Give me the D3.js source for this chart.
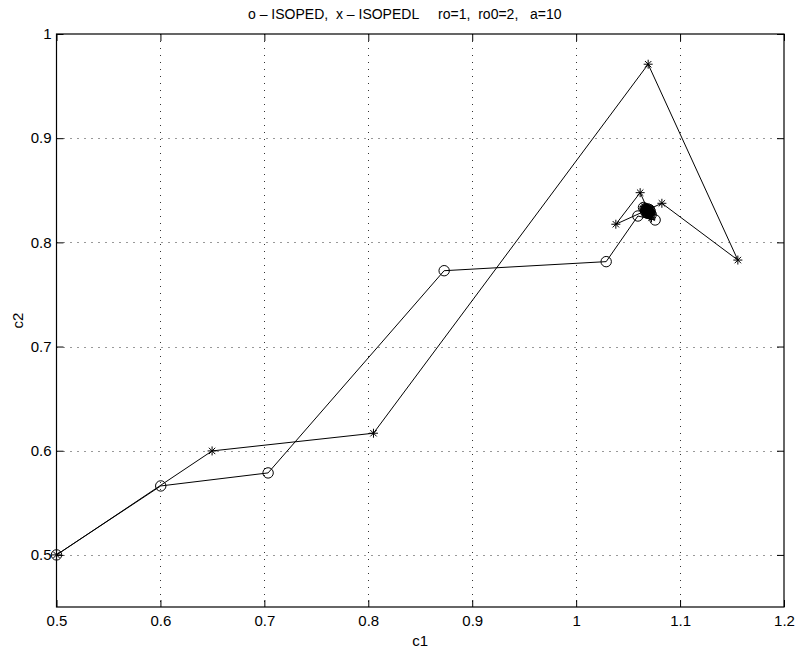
<!DOCTYPE html>
<html><head><meta charset="utf-8">
<script src="https://cdn.jsdelivr.net/npm/d3@7"></script>
<style>
body{margin:0;background:#fff;}
svg{display:block;}
text{font-family:"Liberation Sans",Arial,Helvetica,sans-serif;fill:#000;}
</style></head>
<body>
<svg id="chart" width="798" height="652"></svg>
<script>
// ISOPED (circles)
const isopedC1 = [0.5, 0.6003, 0.7036, 0.873, 1.0289, 1.0594, 1.076, 1.0648, 1.0722, 1.0662, 1.0712, 1.0672, 1.0705, 1.0679, 1.0699, 1.0684, 1.0695,
  1.0706, 1.0674, 1.0674, 1.0706, 1.0712, 1.0690, 1.0668, 1.0690, 1.0697, 1.0683, 1.0690];
const isopedC2 = [0.5, 0.5662, 0.5787, 0.7728, 0.7815, 0.8253, 0.8215, 0.8335, 0.8268, 0.8322, 0.8277, 0.8318, 0.8285, 0.8312, 0.8291, 0.8307, 0.8296,
  0.8314, 0.8314, 0.8286, 0.8286, 0.8300, 0.8321, 0.8300, 0.8279, 0.8306, 0.8294, 0.8300];
// ISOPEDL (stars)
const isopedlC1 = [0.5, 0.6497, 0.805, 1.0693, 1.1556, 1.0825, 1.0382, 1.0616, 1.0725, 1.0655, 1.0718, 1.0668, 1.0708, 1.0676, 1.0701, 1.0682, 1.0697,
  1.0710, 1.0690, 1.0670, 1.0690, 1.0705, 1.0675, 1.0675, 1.0705, 1.0698, 1.0690, 1.0682, 1.0690, 1.0690];
const isopedlC2 = [0.5, 0.5998, 0.6168, 0.971, 0.783, 0.8375, 0.8174, 0.8477, 0.8235, 0.8345, 0.8268, 0.8328, 0.8282, 0.8318, 0.8289, 0.8311, 0.8294,
  0.8300, 0.8322, 0.8300, 0.8280, 0.8312, 0.8312, 0.8288, 0.8288, 0.8300, 0.8308, 0.8300, 0.8292, 0.8300];
const xTicks = [0.5, 0.6, 0.7, 0.8, 0.9, 1, 1.1, 1.2];
const yTicks = [0.5, 0.6, 0.7, 0.8, 0.9, 1];
const titleText = "o \u2013 ISOPED,  x \u2013 ISOPEDL     ro=1,  ro0=2,   a=10";
const xLabel = "c1", yLabel = "c2";

const svg = d3.select("#chart");
const L = 56.5, R = 784, T = 34, B = 607;
const x = d3.scaleLinear().domain([0.5, 1.2]).range([L, R]);
const y = d3.scaleLinear().domain([0.45, 1]).range([B, T]);
const fmt = d => String(d);

// grid
const g = svg.append("g");
g.selectAll(".gx").data(xTicks.filter(d => d > 0.5 && d < 1.2)).join("line")
  .attr("x1", d => Math.round(x(d)) + 0.5).attr("x2", d => Math.round(x(d)) + 0.5)
  .attr("y1", T).attr("y2", B)
  .attr("stroke", "#333").attr("stroke-width", 1).attr("stroke-dasharray", "1,6");
g.selectAll(".gy").data(yTicks.filter(d => d < 1)).join("line")
  .attr("y1", d => Math.round(y(d)) + 0.5).attr("y2", d => Math.round(y(d)) + 0.5)
  .attr("x1", L).attr("x2", R)
  .attr("stroke", "#333").attr("stroke-width", 1).attr("stroke-dasharray", "1,6");

// axes
const xAxisB = d3.axisBottom(x).tickValues(xTicks).tickFormat(fmt).tickSizeInner(-7).tickSizeOuter(0).tickPadding(8);
const xAxisT = d3.axisTop(x).tickValues(xTicks).tickFormat("").tickSizeInner(-7).tickSizeOuter(0);
const yAxisL = d3.axisLeft(y).tickValues(yTicks).tickFormat(fmt).tickSizeInner(-7).tickSizeOuter(0).tickPadding(5);
const yAxisR = d3.axisRight(y).tickValues(yTicks).tickFormat("").tickSizeInner(-7).tickSizeOuter(0);
function styleAxis(sel){
  sel.select(".domain").remove();
  sel.selectAll("text").style("font-size", "15px").attr("fill", "#000");
  sel.selectAll("line").attr("stroke", "#000");
}
svg.append("g").attr("transform", `translate(0,${B})`).call(xAxisB).call(styleAxis);
svg.append("g").attr("transform", `translate(0,${T})`).call(xAxisT).call(styleAxis);
svg.append("g").attr("transform", `translate(${L},0)`).call(yAxisL).call(styleAxis);
svg.append("g").attr("transform", `translate(${R},0)`).call(yAxisR).call(styleAxis);
svg.append("rect").attr("x", L).attr("y", T).attr("width", R - L).attr("height", B - T)
  .attr("fill", "none").attr("stroke", "#000").attr("stroke-width", 1.2);

// data
const line = d3.line().x(d => x(d[0])).y(d => y(d[1]));
const s1 = isopedC1.map((v, i) => [v, isopedC2[i]]);
const s2 = isopedlC1.map((v, i) => [v, isopedlC2[i]]);
svg.append("path").datum(s1).attr("d", line).attr("fill", "none").attr("stroke", "#000").attr("stroke-width", 1);
svg.append("path").datum(s2).attr("d", line).attr("fill", "none").attr("stroke", "#000").attr("stroke-width", 1);
svg.selectAll(".c").data(s1).join("circle")
  .attr("cx", d => x(d[0])).attr("cy", d => y(d[1])).attr("r", 5.2)
  .attr("fill", "none").attr("stroke", "#000").attr("stroke-width", 1);
const star = "M-4.5,0H4.5M0,-4.5V4.5M-3.2,-3.2L3.2,3.2M-3.2,3.2L3.2,-3.2";
svg.selectAll(".s").data(s2).join("path")
  .attr("transform", d => `translate(${x(d[0])},${y(d[1])})`)
  .attr("d", star).attr("fill", "none").attr("stroke", "#000").attr("stroke-width", 1);

// texts
svg.append("text").attr("x", 248).attr("y", 19).style("font-size", "14px")
  .attr("xml:space", "preserve").style("white-space", "pre").text(titleText);
svg.append("text").attr("x", (L + R) / 2).attr("y", 646).attr("text-anchor", "middle").style("font-size", "15px").text(xLabel);
svg.append("text").attr("transform", `translate(23,${(T + B) / 2}) rotate(-90)`).attr("text-anchor", "middle").style("font-size", "15px").text(yLabel);
</script>
</body></html>
